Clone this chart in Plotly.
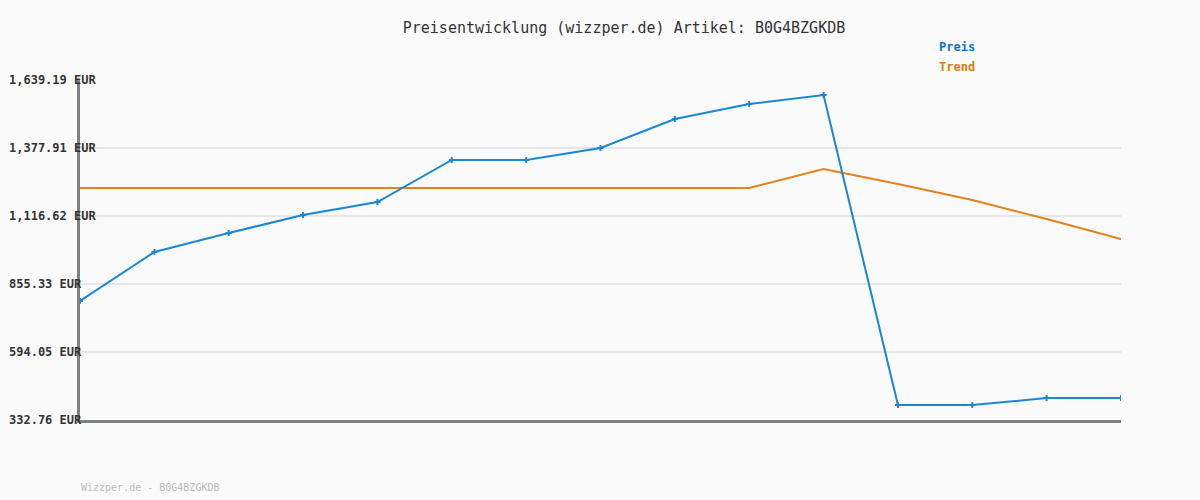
import plotly.graph_objects as go

points = list(range(15))
preis = [790.0, 978.3, 1051.3, 1120.5, 1170.4, 1331.8, 1331.8, 1377.9,
         1489.3, 1547.0, 1581.6, 390.4, 390.4, 417.3, 417.3]
trend = [1224.2, 1224.2, 1224.2, 1224.2, 1224.2, 1224.2, 1224.2, 1224.2,
         1224.2, 1224.2, 1297.2, 1239.6, 1178.1, 1105.1, 1028.3]
tick_vals = [332.76, 594.05, 855.33, 1116.62, 1377.91, 1639.19]
tick_text = ["332.76 EUR", "594.05 EUR", "855.33 EUR", "1,116.62 EUR", "1,377.91 EUR", "1,639.19 EUR"]

MONO = "DejaVu Sans Mono, Liberation Mono, monospace"
BLUE = "#1a87d4"
ORANGE = "#e3821a"
L, R, T, B = 80, 79, 80, 80
PW, PH = 1200 - L - R, 500 - T - B

def px_x(x):
    return (x - L) / PW

def px_y(y):
    return (500 - B - y) / PH

fig = go.Figure()
fig.add_trace(go.Scatter(x=points, y=trend, mode="lines", name="Trend",
                         line=dict(color=ORANGE, width=2), hoverinfo="skip"))
fig.add_trace(go.Scatter(x=points, y=preis, mode="lines+markers", name="Preis",
                         line=dict(color=BLUE, width=2),
                         marker=dict(symbol="cross", size=5, color=BLUE)))

annotations = []
for v, t in zip(tick_vals, tick_text):
    annotations.append(dict(text="<b>%s</b>" % t, x=px_x(7), y=v, xref="paper", yref="y",
                            showarrow=False, xanchor="left", yanchor="middle",
                            font=dict(family=MONO, size=12, color="#333333")))
annotations += [
    dict(text="<b>Preis</b>", x=px_x(937), y=px_y(47), xref="paper", yref="paper", showarrow=False,
         font=dict(family=MONO, size=12, color="#0c72c4"), xanchor="left", yanchor="middle"),
    dict(text="<b>Trend</b>", x=px_x(937), y=px_y(67), xref="paper", yref="paper", showarrow=False,
         font=dict(family=MONO, size=12, color="#dc7a0c"), xanchor="left", yanchor="middle"),
    dict(text="Wizzper.de - B0G4BZGKDB", x=px_x(79), y=px_y(487), xref="paper", yref="paper",
         showarrow=False, font=dict(family=MONO, size=10, color="#bbbbbb"),
         xanchor="left", yanchor="middle"),
]

fig.update_layout(
    width=1200, height=500,
    margin=dict(l=L, r=R, t=T, b=B, autoexpand=False),
    paper_bgcolor="#fafafa", plot_bgcolor="#fafafa",
    showlegend=False,
    title=dict(text="Preisentwicklung (wizzper.de) Artikel: B0G4BZGKDB",
               x=624 / 1200, xanchor="center", xref="container",
               y=1 - 28 / 500, yanchor="middle", yref="container",
               font=dict(family=MONO, size=15, color="#333333")),
    xaxis=dict(range=[0, 14], showgrid=False, showticklabels=False, ticks="",
               zeroline=False, showline=True, linecolor="#808080", linewidth=3,
               automargin=False),
    yaxis=dict(range=[332.76, 1639.19], tickvals=tick_vals, showticklabels=False,
               showgrid=True, gridcolor="#e6e6e6", gridwidth=2, zeroline=False,
               showline=True, linecolor="#808080", linewidth=3, ticks="",
               automargin=False),
    annotations=annotations,
)

fig.write_html("out.html", config={"displayModeBar": False},
               post_script="document.body.style.margin='0';document.body.style.background='#fafafa';")
